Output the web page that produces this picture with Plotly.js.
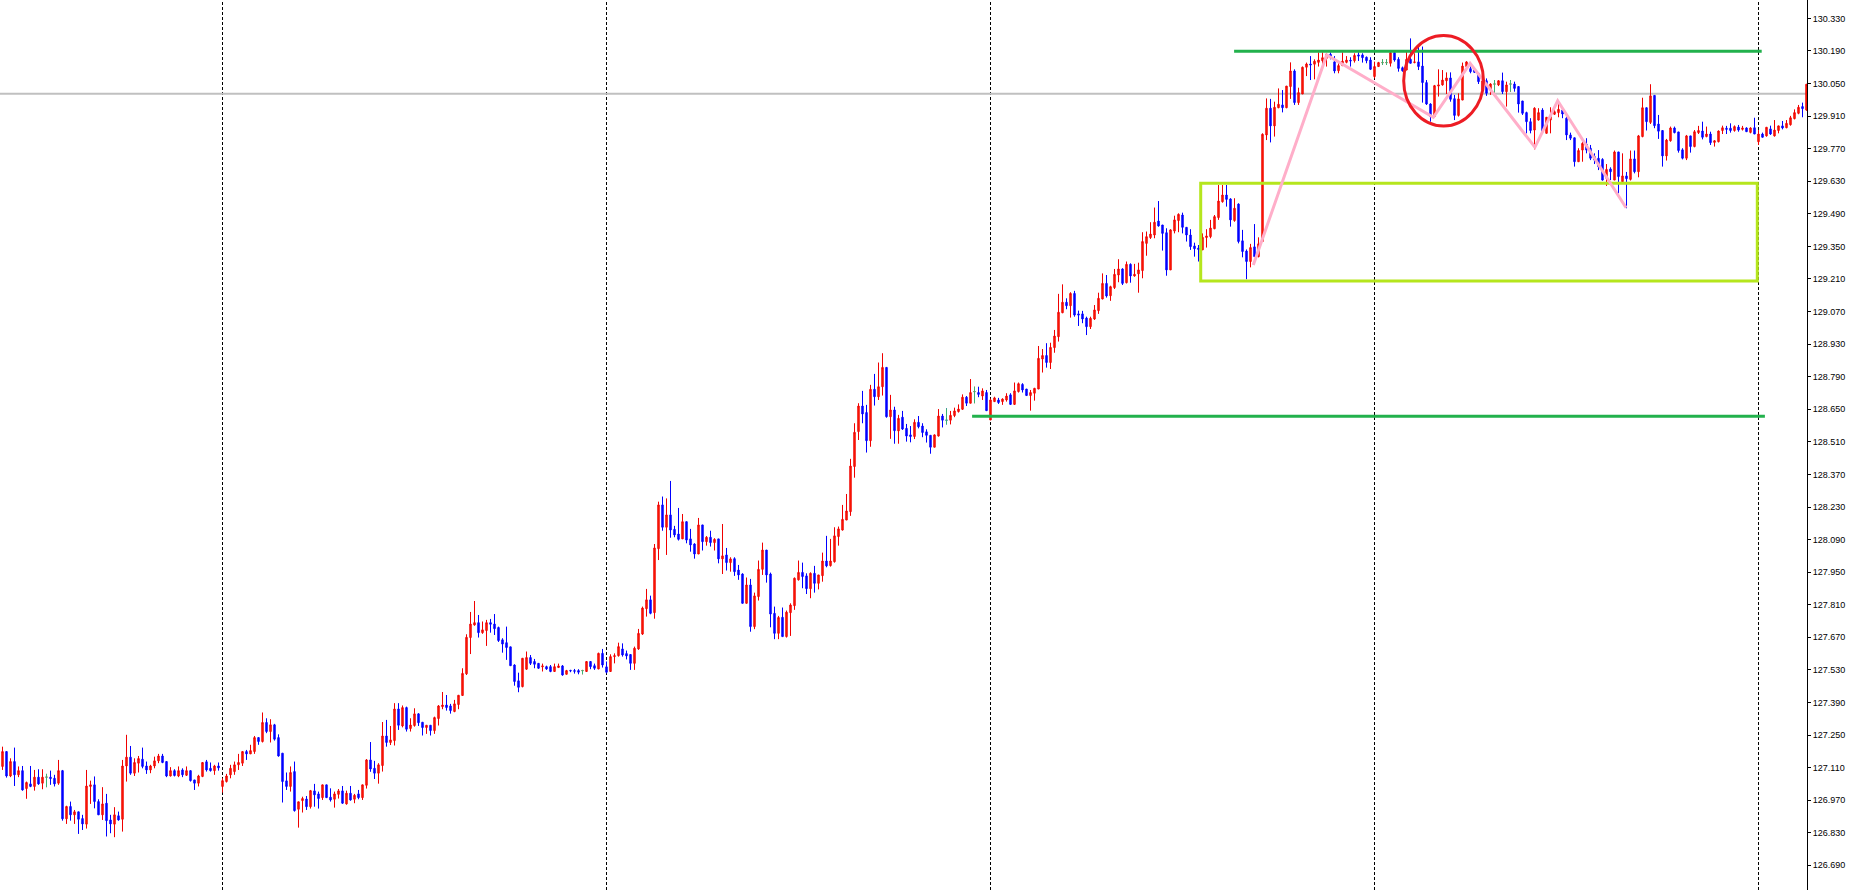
<!DOCTYPE html>
<html><head><meta charset="utf-8">
<script src="https://cdn.plot.ly/plotly-3.0.1.min.js"></script>
<style>html,body{margin:0;padding:0;background:#fff;overflow:hidden}#chart{width:1855px;height:890px}</style>
</head><body><div id="chart"></div>
<script>
const barOpen = [
127.115,127.179,127.074,127.136,127.079,127.097,127.020,127.040,127.029,127.069,
127.043,127.069,127.069,127.064,127.043,127.097,126.890,126.943,126.907,126.920,
126.891,126.867,127.029,127.036,126.964,126.907,126.957,126.885,126.867,126.903,
126.888,127.117,127.155,127.086,127.129,127.146,127.117,127.100,127.117,127.139,
127.160,127.136,127.074,127.097,127.074,127.100,127.077,127.097,127.057,127.043,
127.072,127.135,127.107,127.097,127.117,127.029,127.050,127.079,127.093,127.122,
127.129,127.179,127.169,127.179,127.239,127.222,127.304,127.265,127.294,127.239,
127.172,127.053,127.029,127.093,126.931,126.968,126.975,126.942,127.010,126.997,
126.981,127.036,126.983,126.974,126.995,127.010,126.954,127.000,126.974,126.997,
126.981,127.034,127.143,127.107,127.086,127.119,127.246,127.218,127.226,127.362,
127.289,127.368,127.278,127.291,127.341,127.305,127.282,127.292,127.269,127.321,
127.372,127.379,127.375,127.351,127.381,127.420,127.513,127.669,127.723,127.733,
127.690,127.699,127.733,127.727,127.712,127.659,127.647,127.629,127.551,127.483,
127.458,127.533,127.583,127.566,127.558,127.543,127.544,127.544,127.523,127.540,
127.547,127.511,127.528,127.527,127.527,127.527,127.523,127.566,127.548,127.534,
127.601,127.543,127.523,127.587,127.591,127.620,127.600,127.596,127.558,127.620,
127.684,127.793,127.831,127.776,128.051,128.239,128.143,128.196,128.134,128.114,
128.093,128.167,128.093,128.071,128.028,128.153,128.081,128.100,128.077,128.093,
128.007,128.024,127.991,128.008,127.959,127.942,127.816,127.895,127.716,127.845,
127.962,128.045,127.942,127.773,127.687,127.756,127.673,127.776,127.806,127.917,
127.949,127.934,127.879,127.945,127.902,127.935,127.998,127.978,127.995,128.103,
128.131,128.174,128.210,128.404,128.554,128.664,128.636,128.515,128.736,128.704,
128.747,128.830,128.618,128.647,128.557,128.616,128.568,128.540,128.533,128.594,
128.578,128.553,128.538,128.487,128.535,128.621,128.603,128.603,128.623,128.640,
128.650,128.702,128.676,128.726,128.722,128.707,128.722,128.604,128.683,128.690,
128.683,128.690,128.712,128.671,128.726,128.757,128.737,128.709,128.719,128.737,
128.866,128.881,128.851,128.915,128.962,129.065,129.110,129.095,129.148,129.060,
129.060,129.042,129.005,129.038,129.074,129.124,129.191,129.138,129.173,129.227,
129.253,129.194,129.273,129.223,129.232,129.246,129.363,129.388,129.399,129.459,
129.442,129.409,129.249,129.416,129.461,129.485,129.432,129.399,129.352,129.343,
129.335,129.388,129.392,129.426,129.474,129.542,129.571,129.554,129.461,129.532,
129.374,129.330,129.285,129.348,129.306,129.371,129.829,129.944,129.868,129.946,
129.958,129.946,130.037,130.104,129.968,130.005,130.120,130.134,130.133,130.141,
130.148,130.158,130.176,130.143,130.105,130.127,130.141,130.150,130.148,130.173,
130.173,130.163,130.151,130.080,130.123,130.140,130.140,130.137,130.183,130.154,
130.118,130.108,130.154,130.140,130.143,130.125,130.054,129.962,129.908,130.039,
130.044,130.062,130.074,129.985,129.913,129.979,130.123,130.114,130.108,130.094,
130.022,130.062,130.022,130.048,130.044,130.062,130.015,130.048,130.048,130.037,
129.975,129.925,129.886,129.850,129.893,129.936,129.836,129.893,129.918,129.925,
129.936,129.901,129.829,129.817,129.714,129.764,129.789,129.772,129.736,129.729,
129.724,129.643,129.683,129.635,129.756,129.628,129.653,129.638,129.726,129.671,
129.822,129.946,129.883,129.999,129.876,129.848,129.739,129.804,129.859,129.842,
129.765,129.729,129.825,129.779,129.839,129.846,129.822,129.833,129.797,129.800,
129.848,129.858,129.858,129.848,129.863,129.853,129.859,129.840,129.860,129.800,
129.833,129.825,129.855,129.825,129.848,129.868,129.860,129.873,129.899,129.922,
129.951,129.936];
const barHigh = [
127.200,127.179,127.150,127.196,127.115,127.117,127.050,127.117,127.100,127.103,
127.103,127.083,127.097,127.079,127.143,127.100,126.946,126.964,126.928,126.920,
126.907,127.100,127.054,127.072,126.974,127.026,126.997,126.907,126.940,126.921,
127.143,127.251,127.203,127.150,127.160,127.196,127.136,127.122,127.157,127.169,
127.169,127.136,127.112,127.103,127.115,127.107,127.115,127.097,127.057,127.079,
127.132,127.143,127.132,127.122,127.132,127.064,127.083,127.122,127.136,127.169,
127.179,127.186,127.208,127.246,127.239,127.347,127.322,127.318,127.298,127.253,
127.172,127.089,127.115,127.136,126.963,126.985,126.988,127.014,127.040,127.007,
127.036,127.036,127.021,127.007,127.018,127.031,127.011,127.031,126.997,127.014,
127.036,127.147,127.220,127.139,127.129,127.306,127.315,127.289,127.387,127.387,
127.377,127.372,127.322,127.365,127.344,127.305,127.292,127.292,127.329,127.379,
127.435,127.422,127.384,127.401,127.422,127.537,127.683,127.779,127.826,127.766,
127.738,127.745,127.749,127.770,127.716,127.666,127.716,127.629,127.554,127.518,
127.580,127.609,127.594,127.577,127.558,127.557,127.548,127.551,127.557,127.557,
127.551,127.530,127.530,127.534,127.533,127.530,127.568,127.566,127.557,127.604,
127.620,127.566,127.597,127.601,127.647,127.644,127.613,127.596,127.630,127.706,
127.802,127.878,127.849,128.071,128.253,128.275,128.267,128.342,128.149,128.226,
128.200,128.167,128.136,128.074,128.183,128.153,128.105,128.128,128.096,128.093,
128.157,128.054,128.014,128.014,127.981,127.945,127.927,127.921,127.862,128.000,
128.077,128.045,127.948,127.802,127.762,127.798,127.785,127.816,127.927,128.000,
127.991,127.945,127.949,127.977,127.938,128.034,128.106,128.093,128.143,128.146,
128.239,128.286,128.437,128.590,128.676,128.729,128.669,128.755,128.802,128.851,
128.891,128.830,128.712,128.661,128.626,128.643,128.587,128.578,128.607,128.621,
128.590,128.564,128.538,128.542,128.651,128.630,128.654,128.643,128.657,128.671,
128.714,128.707,128.780,128.747,128.747,128.740,128.733,128.696,128.704,128.699,
128.697,128.719,128.719,128.765,128.765,128.762,128.737,128.733,128.742,128.922,
128.909,128.934,128.936,128.991,129.146,129.187,129.127,129.153,129.159,129.074,
129.073,129.048,129.048,129.098,129.151,129.234,129.227,129.181,129.253,129.295,
129.256,129.285,129.277,129.275,129.280,129.411,129.414,129.454,129.517,129.545,
129.442,129.428,129.424,129.482,129.492,129.495,129.432,129.424,129.366,129.356,
129.406,129.424,129.464,129.485,129.614,129.614,129.614,129.557,129.557,129.535,
129.421,129.337,129.361,129.446,129.389,129.836,129.986,129.984,129.972,130.029,
130.022,130.039,130.141,130.111,130.032,130.123,130.140,130.168,130.154,130.184,
130.184,130.180,130.184,130.168,130.137,130.184,130.168,130.163,130.180,130.184,
130.180,130.166,130.163,130.144,130.143,130.154,130.154,130.186,130.191,130.163,
130.123,130.191,130.244,130.180,130.220,130.209,130.065,129.965,130.044,130.111,
130.108,130.098,130.098,130.001,130.008,130.140,130.146,130.123,130.108,130.094,
130.087,130.072,130.051,130.065,130.065,130.097,130.058,130.065,130.058,130.037,
129.975,129.929,129.901,129.948,129.944,129.944,129.905,129.948,129.954,129.972,
129.936,129.908,129.839,129.817,129.772,129.800,129.815,129.786,129.750,129.764,
129.729,129.704,129.690,129.762,129.756,129.750,129.670,129.762,129.762,129.829,
129.989,129.946,130.047,129.999,129.915,129.848,129.812,129.865,129.865,129.842,
129.772,129.829,129.825,129.850,129.868,129.886,129.865,129.843,129.807,129.848,
129.869,129.868,129.879,129.870,129.872,129.868,129.862,129.862,129.903,129.850,
129.839,129.862,129.869,129.893,129.869,129.889,129.893,129.911,129.939,129.958,
129.968,130.047];
const barLow = [
127.100,127.067,127.069,127.031,127.069,127.011,126.976,127.026,127.011,127.036,
127.017,127.026,127.036,127.029,127.036,126.882,126.868,126.882,126.868,126.825,
126.842,126.848,126.954,126.935,126.907,126.885,126.814,126.828,126.811,126.882,
126.835,127.050,127.079,127.074,127.089,127.107,127.083,127.086,127.107,127.129,
127.129,127.069,127.072,127.072,127.069,127.069,127.074,127.050,127.014,127.029,
127.069,127.093,127.093,127.079,127.097,127.003,127.046,127.064,127.079,127.100,
127.117,127.143,127.169,127.169,127.208,127.218,127.258,127.218,127.226,127.157,
126.960,127.014,127.007,126.921,126.852,126.917,126.928,126.934,126.942,126.934,
126.971,126.981,126.964,126.938,126.977,126.954,126.951,126.968,126.957,126.974,
126.971,127.020,127.092,127.061,127.041,127.093,127.200,127.207,127.205,127.272,
127.283,127.265,127.265,127.286,127.289,127.248,127.255,127.248,127.255,127.291,
127.361,127.355,127.342,127.348,127.361,127.418,127.508,127.598,127.720,127.669,
127.685,127.633,127.690,127.680,127.650,127.604,127.573,127.548,127.462,127.434,
127.455,127.530,127.551,127.537,127.534,127.523,127.530,127.520,127.523,127.540,
127.505,127.511,127.520,127.514,127.511,127.511,127.523,127.533,127.530,127.533,
127.540,127.515,127.523,127.558,127.587,127.587,127.575,127.530,127.530,127.616,
127.680,127.759,127.769,127.750,128.002,128.128,128.024,128.098,128.100,128.086,
128.093,128.074,128.038,128.008,128.028,128.043,128.064,128.060,128.043,127.988,
127.942,127.957,127.952,127.934,127.917,127.816,127.816,127.694,127.705,127.828,
127.938,127.905,127.713,127.662,127.662,127.673,127.669,127.676,127.788,127.914,
127.881,127.856,127.838,127.862,127.876,127.909,127.971,127.974,127.991,128.064,
128.129,128.174,128.192,128.356,128.518,128.590,128.464,128.489,128.666,128.690,
128.709,128.614,128.523,128.502,128.502,128.561,128.511,128.508,128.522,128.568,
128.530,128.507,128.459,128.487,128.533,128.572,128.585,128.585,128.616,128.636,
128.647,128.664,128.676,128.676,128.702,128.690,128.644,128.604,128.683,128.673,
128.669,128.683,128.669,128.669,128.722,128.722,128.709,128.644,128.687,128.737,
128.808,128.829,128.823,128.893,128.941,129.063,129.080,129.044,129.048,129.008,
129.020,128.969,128.995,129.034,129.060,129.123,129.130,129.116,129.167,129.196,
129.184,129.191,129.194,129.220,129.151,129.213,129.310,129.382,129.385,129.435,
129.332,129.224,129.249,129.406,129.411,129.406,129.371,129.335,129.306,129.285,
129.335,129.345,129.385,129.424,129.464,129.538,129.521,129.435,129.456,129.363,
129.303,129.209,129.260,129.306,129.303,129.371,129.807,129.797,129.822,129.944,
129.926,129.944,129.984,129.958,129.958,130.005,130.082,130.065,130.068,130.123,
130.108,130.123,130.154,130.094,130.094,130.125,130.137,130.123,130.140,130.147,
130.140,130.137,130.108,130.072,130.123,130.130,130.130,130.123,130.144,130.101,
130.101,130.108,130.137,130.137,130.108,129.968,129.958,129.886,129.905,129.994,
130.041,130.005,129.972,129.893,129.908,129.979,130.115,130.094,130.097,130.048,
130.001,129.997,130.001,130.011,130.039,130.005,129.951,130.015,130.015,129.925,
129.915,129.836,129.836,129.767,129.891,129.836,129.836,129.836,129.915,129.905,
129.901,129.807,129.807,129.693,129.714,129.714,129.750,129.721,129.704,129.678,
129.633,129.610,129.635,129.635,129.578,129.621,129.514,129.633,129.664,129.647,
129.819,129.848,129.876,129.858,129.812,129.693,129.719,129.800,129.836,129.753,
129.724,129.721,129.753,129.776,129.833,129.810,129.819,129.786,129.779,129.797,
129.833,129.833,129.839,129.843,129.843,129.848,129.843,129.836,129.833,129.786,
129.819,129.822,129.829,129.822,129.836,129.853,129.858,129.869,129.896,129.918,
129.905,129.933];
const barClose = [
127.179,127.074,127.136,127.079,127.097,127.014,127.046,127.029,127.069,127.040,
127.069,127.069,127.063,127.040,127.097,126.890,126.943,126.907,126.920,126.888,
126.868,127.031,127.036,126.964,126.907,126.954,126.882,126.868,126.907,126.885,
127.117,127.155,127.086,127.132,127.149,127.115,127.100,127.117,127.139,127.160,
127.132,127.074,127.097,127.076,127.097,127.079,127.097,127.054,127.043,127.074,
127.132,127.100,127.097,127.117,127.109,127.054,127.074,127.107,127.122,127.132,
127.179,127.169,127.183,127.239,127.222,127.304,127.265,127.294,127.232,127.160,
127.050,127.029,127.089,126.925,126.963,126.977,126.942,127.011,126.993,126.977,
127.036,126.981,126.971,126.997,127.010,126.957,127.000,126.971,126.991,126.981,
127.036,127.143,127.104,127.086,127.122,127.246,127.218,127.229,127.362,127.292,
127.368,127.275,127.293,127.341,127.303,127.282,127.292,127.269,127.325,127.375,
127.379,127.368,127.355,127.384,127.421,127.515,127.670,127.727,127.733,127.690,
127.702,127.733,127.726,127.707,127.656,127.641,127.626,127.548,127.480,127.455,
127.580,127.583,127.558,127.554,127.537,127.547,127.534,127.523,127.544,127.547,
127.508,127.527,127.526,127.524,127.520,127.527,127.566,127.544,127.537,127.601,
127.551,127.520,127.587,127.591,127.630,127.594,127.590,127.558,127.623,127.687,
127.796,127.831,127.773,128.054,128.239,128.143,128.196,128.131,128.110,128.091,
128.167,128.088,128.067,128.028,128.153,128.081,128.100,128.077,128.091,128.007,
128.020,127.991,128.007,127.952,127.938,127.816,127.895,127.716,127.848,127.962,
128.045,127.938,127.770,127.687,127.755,127.673,127.778,127.809,127.924,127.949,
127.931,127.879,127.945,127.902,127.938,127.998,127.977,127.998,128.106,128.136,
128.177,128.213,128.406,128.551,128.664,128.630,128.515,128.736,128.704,128.747,
128.830,128.618,128.647,128.558,128.611,128.565,128.535,128.533,128.594,128.575,
128.550,128.538,128.487,128.540,128.621,128.603,128.603,128.624,128.643,128.651,
128.702,128.676,128.722,128.726,128.714,128.729,128.644,128.690,128.699,128.679,
128.694,128.707,128.671,128.729,128.760,128.733,128.709,128.722,128.740,128.869,
128.881,128.851,128.916,128.965,129.067,129.110,129.095,129.148,129.055,129.055,
129.038,129.005,129.041,129.077,129.127,129.191,129.137,129.177,129.230,129.253,
129.191,129.273,129.223,129.230,129.249,129.371,129.392,129.403,129.454,129.438,
129.406,129.249,129.421,129.464,129.488,129.432,129.399,129.349,129.340,129.337,
129.389,129.395,129.429,129.478,129.545,129.571,129.552,129.464,129.514,129.371,
129.328,129.285,129.345,129.306,129.361,129.832,129.944,129.868,129.948,129.961,
129.946,130.039,130.104,129.968,130.011,130.120,130.134,130.130,130.146,130.151,
130.161,130.176,130.166,130.104,130.127,130.146,130.151,130.147,130.171,130.168,
130.161,130.148,130.111,130.123,130.140,130.140,130.140,130.183,130.151,130.115,
130.105,130.154,130.137,130.143,130.123,130.054,129.962,129.908,130.041,130.044,
130.065,130.074,129.982,129.913,129.984,130.125,130.143,130.101,130.098,130.058,
130.062,130.008,130.048,130.048,130.062,130.015,130.044,130.048,130.029,129.962,
129.922,129.886,129.848,129.944,129.925,129.843,129.905,129.908,129.929,129.939,
129.919,129.829,129.815,129.714,129.762,129.793,129.764,129.729,129.721,129.693,
129.635,129.681,129.671,129.756,129.650,129.653,129.641,129.726,129.671,129.825,
129.946,129.886,129.997,129.869,129.845,129.739,129.807,129.859,129.839,129.762,
129.729,129.825,129.779,129.843,129.848,129.819,129.833,129.796,129.804,129.846,
129.860,129.853,129.848,129.865,129.850,129.859,129.843,129.859,129.833,129.833,
129.819,129.862,129.833,129.850,129.868,129.859,129.879,129.903,129.925,129.948,
129.942,130.047];

// day separators (bar numbers), drawn levels and markup
const separatorBars = [55, 151, 247, 343, 439];
const grayLevel = 130.006;
const upperLevel = 130.189;
const upperLineBars = [307.9, 439.8];
const lowerLevel = 128.620;
const lowerLineBars = [242.4, 440.6];
const zoneBars = [299.55, 438.7];
const zonePrices = [129.201, 129.621];
const circleBars = [350.3, 370.25];
const circlePrices = [129.867, 130.256];
const zigzagBars = [312.7, 331.05, 357.7, 366.9, 383.1, 388.8, 405.9];
const zigzagPrices = [129.270, 130.173, 129.905, 130.137, 129.776, 129.976, 129.516];
const priceTickStart = 126.69;
const priceTickStep = 0.14;
const priceRange = [126.584, 130.409];
const barRange = [-0.625, 451.125];

const barIndex = barOpen.map((_, i) => i);
const doji = barIndex.filter(i => barOpen[i] === barClose[i]);
const pick = (arr) => doji.map(i => arr[i]);

const traces = [
  {
    type: 'candlestick', x: barIndex, open: barOpen, high: barHigh, low: barLow, close: barClose,
    increasing: {line: {color: '#f00000', width: 1}, fillcolor: '#ff2a00'},
    decreasing: {line: {color: '#0000ff', width: 1}, fillcolor: '#0000ff'},
    whiskerwidth: 0, hoverinfo: 'skip', showlegend: false
  },
  {
    type: 'candlestick', x: doji, open: pick(barOpen), high: pick(barHigh), low: pick(barLow), close: pick(barClose),
    increasing: {line: {color: '#3cb371', width: 1}, fillcolor: '#3cb371'},
    decreasing: {line: {color: '#3cb371', width: 1}, fillcolor: '#3cb371'},
    whiskerwidth: 0, hoverinfo: 'skip', showlegend: false
  }
];

const shapes = [];
separatorBars.forEach(b => shapes.push({
  type: 'line', xref: 'x', yref: 'paper', x0: b, x1: b, y0: 0, y1: 1, layer: 'below',
  line: {color: '#000000', width: 1, dash: '3px,2px'}
}));
shapes.push({type: 'line', xref: 'paper', yref: 'y', x0: 0, x1: 1, y0: grayLevel, y1: grayLevel, layer: 'below',
  line: {color: '#c0c0c0', width: 2}});
shapes.push({type: 'rect', xref: 'x', yref: 'y', x0: zoneBars[0], x1: zoneBars[1], y0: zonePrices[0], y1: zonePrices[1],
  layer: 'above', line: {color: '#b5e61d', width: 3}, fillcolor: 'rgba(0,0,0,0)'});
shapes.push({type: 'line', xref: 'x', yref: 'y', x0: upperLineBars[0], x1: upperLineBars[1], y0: upperLevel, y1: upperLevel,
  layer: 'above', line: {color: '#22b14c', width: 3}});
shapes.push({type: 'line', xref: 'x', yref: 'y', x0: lowerLineBars[0], x1: lowerLineBars[1], y0: lowerLevel, y1: lowerLevel,
  layer: 'above', line: {color: '#22b14c', width: 3}});
shapes.push({type: 'path', xref: 'x', yref: 'y', layer: 'above',
  path: 'M' + zigzagBars.map((b, i) => b + ',' + zigzagPrices[i]).join('L'),
  line: {color: '#ffaec9', width: 3}, fillcolor: 'rgba(0,0,0,0)'});
shapes.push({type: 'circle', xref: 'x', yref: 'y', x0: circleBars[0], x1: circleBars[1], y0: circlePrices[0], y1: circlePrices[1],
  layer: 'above', line: {color: '#ed1c24', width: 3}, fillcolor: 'rgba(0,0,0,0)'});

const layout = {
  width: 1855, height: 890,
  margin: {l: 0, r: 48, t: 0, b: 0, pad: 0},
  paper_bgcolor: '#ffffff', plot_bgcolor: '#ffffff',
  showlegend: false, hovermode: false, boxgap: 0.5,
  xaxis: {range: barRange, visible: false, showgrid: false, zeroline: false, rangeslider: {visible: false}, fixedrange: true},
  yaxis: {
    side: 'right', range: priceRange, tick0: priceTickStart, dtick: priceTickStep, tickformat: '.3f',
    ticks: 'outside', ticklen: 3, tickwidth: 1, tickcolor: '#000000',
    showline: true, linecolor: '#000000', linewidth: 1, showgrid: false, zeroline: false,
    tickfont: {family: 'Liberation Sans, Arial, sans-serif', size: 9, color: '#000000'}, fixedrange: true
  },
  shapes: shapes
};

Plotly.newPlot('chart', traces, layout, {displayModeBar: false, staticPlot: true});
</script>
</body></html>
